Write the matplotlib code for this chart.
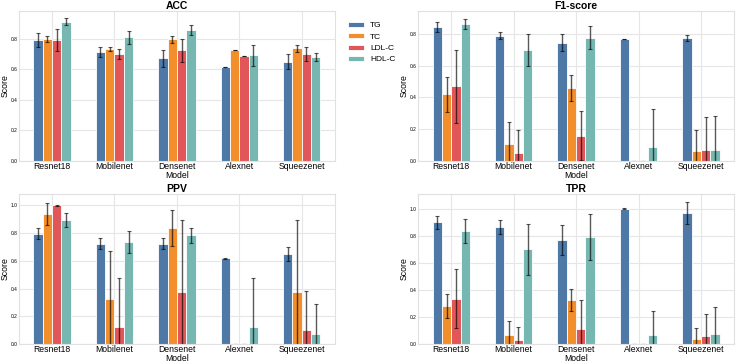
import numpy as np
import matplotlib
matplotlib.use('Agg')
import matplotlib.pyplot as plt

models = ['Resnet18', 'Mobilenet', 'Densenet', 'Alexnet', 'Squeezenet']
targets = ['TG', 'TC', 'LDL-C', 'HDL-C']
colors = ['#4e79a7', '#f28e2b', '#e15759', '#76b7b2']

# mean / std per metric, rows = targets, cols = models
acc_mean = [[0.793, 0.712, 0.672, 0.617, 0.650],
            [0.800, 0.734, 0.798, 0.727, 0.738],
            [0.793, 0.699, 0.725, 0.688, 0.700],
            [0.912, 0.811, 0.857, 0.692, 0.681]]
acc_std = [[0.044, 0.033, 0.055, 0.002, 0.048],
           [0.022, 0.011, 0.022, 0.002, 0.022],
           [0.070, 0.033, 0.077, 0.001, 0.044],
           [0.024, 0.044, 0.033, 0.070, 0.026]]

f1_mean = [[0.844, 0.789, 0.745, 0.766, 0.775],
           [0.421, 0.107, 0.459, 0.0, 0.061],
           [0.469, 0.050, 0.160, 0.0, 0.072],
           [0.859, 0.700, 0.775, 0.088, 0.072]]
f1_std = [[0.032, 0.021, 0.053, 0.002, 0.019],
          [0.110, 0.140, 0.080, 0.0, 0.133],
          [0.230, 0.145, 0.156, 0.0, 0.204],
          [0.032, 0.100, 0.071, 0.238, 0.214]]

ppv_mean = [[0.797, 0.725, 0.725, 0.618, 0.650],
            [0.940, 0.324, 0.838, 0.0, 0.374],
            [1.000, 0.126, 0.374, 0.0, 0.100],
            [0.896, 0.737, 0.783, 0.126, 0.075]]
ppv_std = [[0.040, 0.040, 0.040, 0.002, 0.050],
           [0.080, 0.350, 0.128, 0.0, 0.520],
           [0.002, 0.350, 0.520, 0.0, 0.280],
           [0.050, 0.078, 0.052, 0.350, 0.210]]

tpr_mean = [[0.899, 0.864, 0.770, 1.000, 0.968],
            [0.279, 0.069, 0.323, 0.0, 0.037],
            [0.336, 0.032, 0.114, 0.0, 0.059],
            [0.835, 0.699, 0.788, 0.067, 0.072]]
tpr_std = [[0.050, 0.050, 0.110, 0.002, 0.082],
           [0.089, 0.100, 0.080, 0.0, 0.080],
           [0.220, 0.090, 0.210, 0.0, 0.160],
           [0.090, 0.190, 0.170, 0.180, 0.200]]

metrics = [('ACC', acc_mean, acc_std), ('F1-score', f1_mean, f1_std),
           ('PPV', ppv_mean, ppv_std), ('TPR', tpr_mean, tpr_std)]

plt.rcParams['font.family'] = ['Liberation Sans', 'DejaVu Sans']

fig, axes = plt.subplots(2, 2, figsize=(7.36, 3.63), dpi=100)
plt.subplots_adjust(left=19/736, right=734/736, top=1-11/363, bottom=1-344/363,
                    wspace=0.264, hspace=0.22)

x = np.arange(len(models))
width = 0.15
for ax, (name, mean, std) in zip(axes.flat, metrics):
    for i, t in enumerate(targets):
        ax.bar(x + (i - 1.5) * width, mean[i], width, yerr=std[i], color=colors[i],
               edgecolor='white', linewidth=0.6, label=t, zorder=2,
               error_kw=dict(ecolor='black', alpha=0.65, elinewidth=1, capsize=1.5, capthick=0.8))
    ax.set_ylim(bottom=0)
    ax.set_xticks(x)
    ax.set_xticklabels(models, fontsize=6.2)
    ax.tick_params(axis='y', labelsize=3.5, length=0, pad=1.2)
    ax.tick_params(axis='x', length=0, pad=1)
    ax.set_title(name, fontsize=7.5, fontweight='bold', pad=1)
    ax.set_xlabel('Model', fontsize=6.2, labelpad=0)
    ax.set_ylabel('Score', fontsize=6.3, labelpad=0.5)
    ax.grid(True, color='#e6e6e6', linewidth=0.8, zorder=0)
    ax.set_axisbelow(True)
    for s in ax.spines.values():
        s.set_color('#e0e0e0')
        s.set_linewidth(0.8)

axes[0, 0].legend(loc='upper left', bbox_to_anchor=(1.03, 0.95), frameon=False,
                  fontsize=6, handlelength=2.0, handleheight=0.6, labelspacing=0.45,
                  handletextpad=0.7, borderaxespad=0)

plt.savefig('out.png', dpi=100)
